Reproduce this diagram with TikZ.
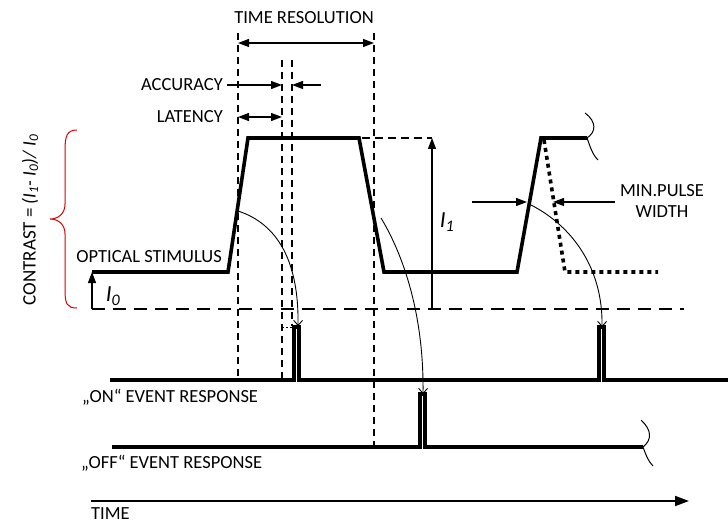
\documentclass[tikz,border=0pt]{standalone}
\usepackage{fontspec}
\setmainfont{Carlito}
\usetikzlibrary{arrows.meta,decorations.pathreplacing}
\tikzset{
  sig/.style={line width=3.6pt,line join=miter,line cap=butt},
  vdash/.style={line width=1.2pt,dash pattern=on 7pt off 5pt},
  hdash/.style={line width=1.2pt,dash pattern=on 13pt off 8pt},
  dimarr/.style={line width=1.2pt,-{Triangle[length=11pt,width=8pt]}},
  dimarr2/.style={line width=1.2pt,{Triangle[length=11pt,width=8pt]}-{Triangle[length=11pt,width=8pt]}},
  curvarr/.style={line width=0.9pt,-{Straight Barb[length=5pt,width=9pt]}},
  lbl/.style={font=\fontsize{18.5}{21}\selectfont,inner sep=0pt},
  brk/.style={line width=1pt},
}
\begin{document}
\begin{tikzpicture}[x=1pt,y=-1pt]
\useasboundingbox (0,0) rectangle (728,524);
% vertical dashed lines
\draw[vdash] (238,33) -- (238,380);
\draw[vdash] (282,60) -- (282,380);
\draw[vdash] (292,60) -- (292,326);
\draw[line width=1pt,dash pattern=on 2pt off 2pt] (282,327) -- (292,327);
\draw[vdash] (374,33) -- (374,447);
% dashed baseline and top
\draw[hdash] (92,309) -- (684,309);
\draw[line width=1.2pt,dash pattern=on 8pt off 5pt] (362,138) -- (432,138);
% optical stimulus
\draw[sig] (92,272) -- (228,272) -- (248,138) -- (359,138) -- (384,272) -- (517,272) -- (541,138) -- (587,138);
\draw[brk] (585,113) .. controls (597,122) and (596,132) .. (587,138) .. controls (590,146) and (592,154) .. (598,160);
% dotted min-pulse
\draw[line width=3.6pt,dash pattern=on 4pt off 4pt] (544,140) -- (565,272) -- (658,272);
% on event response
\draw[sig] (110,380) -- (294,380) -- (294,327) -- (299,327) -- (299,380) -- (599,380) -- (599,327) -- (604,327) -- (604,380) -- (728,380);
% off event response
\draw[sig] (112,447) -- (420,447) -- (420,394) -- (425,394) -- (425,447) -- (643,447);
\draw[brk] (641,420) .. controls (652,430) and (652,440) .. (643,447) .. controls (646,455) and (648,461) .. (653,466);
% time axis
\draw[line width=1.8pt,-{Triangle[length=14pt,width=10pt]}] (91,501) -- (689,501);
% time resolution
\draw[dimarr2] (238,43) -- (374,43);
% accuracy
\draw[dimarr] (227,85) -- (282,85);
\draw[dimarr] (321,85) -- (292,85);
% latency
\draw[dimarr2] (238,117) -- (282,117);
% I1 arrow
\draw[dimarr] (432,309) -- (432,138);
% I0 arrow
\draw[dimarr] (92,309) -- (92,272);
% min pulse width arrows
\draw[dimarr] (472,202) -- (527,202);
\draw[dimarr] (615,202) -- (553,202);
% curved arrows
\draw[curvarr] (238,211) .. controls (278,224) and (299,262) .. (298,326);
\draw[curvarr] (381,218) .. controls (404,256) and (424,316) .. (423,394);
\draw[curvarr] (531,205) .. controls (572,226) and (603,268) .. (602,327);
% red brace
\draw[red!85!black,line width=1pt] (77,130) .. controls (67,130) and (65,136) .. (65,150) -- (65,204) .. controls (65,214) and (58,219) .. (50,219) .. controls (58,219) and (65,224) .. (65,234) -- (65,290) .. controls (65,304) and (67,308) .. (77,308);
% labels
\node[lbl] (tres) at (304,18) {TIME RESOLUTION};
\node[lbl,anchor=east] (acc) at (223,85) {ACCURACY};
\node[lbl,anchor=east] (lat) at (223,117) {LATENCY};
\node[lbl,anchor=east] (opt) at (222,257) {OPTICAL STIMULUS};
\node[lbl,anchor=west] (on) at (82,397) {„ON“ EVENT RESPONSE};
\node[lbl,anchor=west] (off) at (81,463) {„OFF“ EVENT RESPONSE};
\node[lbl,anchor=west] (time) at (91,514) {TIME};
\node[lbl,align=center] (mpw) at (662,201) {MIN.PULSE\\WIDTH};
\node[font=\fontsize{23}{25}\selectfont\itshape,inner sep=0pt] (i1) at (447,222) {I\textsubscript{1}};
\node[font=\fontsize{23}{25}\selectfont\itshape,inner sep=0pt] (i0) at (113,296) {I\textsubscript{0}};
\node[lbl,rotate=90,font=\fontsize{19}{21}\selectfont] (contrast) at (30,220) {CONTRAST = \textit{(I\textsubscript{1}- I\textsubscript{0})/ I\textsubscript{0}}};
\end{tikzpicture}
\end{document}
